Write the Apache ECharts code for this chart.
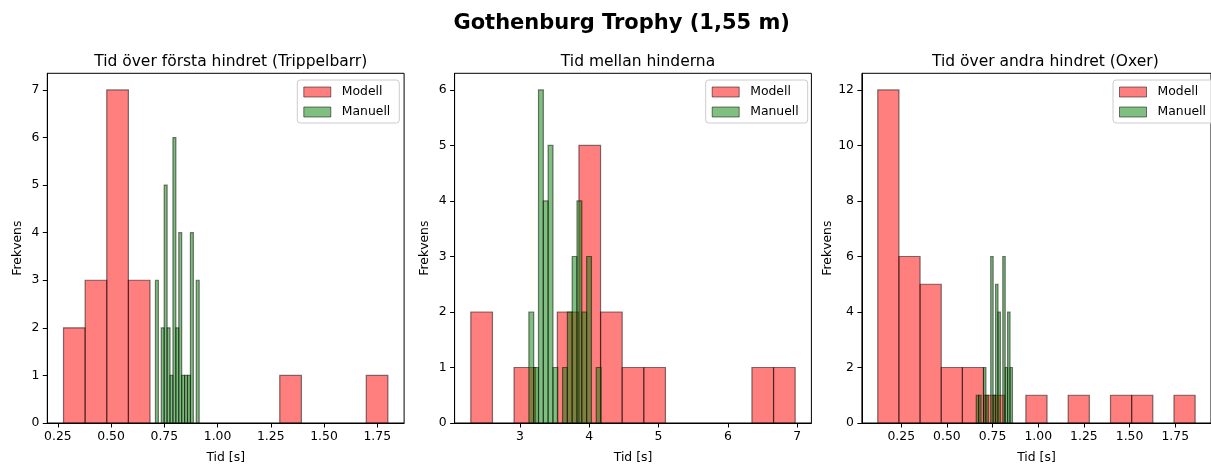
<!DOCTYPE html>
<html><head><meta charset="utf-8">
<script src="https://cdn.jsdelivr.net/npm/echarts@6/dist/echarts.min.js"></script>
<style>html,body{margin:0;padding:0;background:#fff;}#c{width:1211px;height:469px;}</style>
</head><body><div id="c"></div>
<script>
const suptitle = 'Gothenburg Trophy (1,55 m)';
const titles = ['Tid över första hindret (Trippelbarr)', 'Tid mellan hinderna', 'Tid över andra hindret (Oxer)'];
const seriesNames = ['Modell', 'Manuell'];
const xLabel = 'Tid [s]';
const yLabel = 'Frekvens';

// histogram ranges [first bin edge, last bin edge] (15 equal bins) and counts
const modellRange1 = [0.2766, 1.800];
const modellCounts1 = [2, 3, 7, 3, 0, 0, 0, 0, 0, 0, 1, 0, 0, 0, 1];
const manuellRange1 = [0.7084, 0.9137];
const manuellCounts1 = [3, 0, 2, 5, 2, 1, 6, 2, 4, 1, 1, 1, 4, 0, 3];

const modellRange2 = [2.2924, 6.971];
const modellCounts2 = [2, 0, 1, 0, 2, 5, 2, 1, 1, 0, 0, 0, 0, 1, 1];
const manuellRange2 = [3.130, 4.171];
const manuellCounts2 = [2, 1, 6, 4, 5, 1, 0, 1, 2, 3, 4, 2, 3, 0, 1];

const modellRange3 = [0.1214, 1.859];
const modellCounts3 = [12, 6, 5, 2, 2, 1, 0, 1, 0, 1, 0, 1, 1, 0, 1];
const manuellRange3 = [0.6606, 0.8587];
const manuellCounts3 = [1, 1, 0, 2, 1, 0, 6, 1, 5, 4, 0, 6, 2, 4, 2];

const xTicks1 = [0.25, 0.5, 0.75, 1.0, 1.25, 1.5, 1.75];
const xTicks2 = [3, 4, 5, 6, 7];
const xTicks3 = [0.25, 0.5, 0.75, 1.0, 1.25, 1.5, 1.75];
const yTicks1 = [0, 1, 2, 3, 4, 5, 6, 7];
const yTicks2 = [0, 1, 2, 3, 4, 5, 6];
const yTicks3 = [0, 2, 4, 6, 8, 10, 12];

const panels = [
  {title: titles[0], mR: modellRange1, mC: modellCounts1, gR: manuellRange1, gC: manuellCounts1, xt: xTicks1, yt: yTicks1, dec: 2},
  {title: titles[1], mR: modellRange2, mC: modellCounts2, gR: manuellRange2, gC: manuellCounts2, xt: xTicks2, yt: yTicks2, dec: 0},
  {title: titles[2], mR: modellRange3, mC: modellCounts3, gR: manuellRange3, gC: manuellCounts3, xt: xTicks3, yt: yTicks3, dec: 2}
];

const FONT = 'DejaVu Sans';
const gridLeft = [47.3, 454.6, 861.9];
const gridTop = 73.3, gridW = 356.8, gridH = 354;
const legendLeft = [297.3, 705.7, 1113];
const RED = 'rgba(255,0,0,0.5)', GREEN = 'rgba(0,128,0,0.5)', EDGE = 'rgba(0,0,0,0.5)';

function bins(range, counts) {
  const n = counts.length, w = (range[1] - range[0]) / n;
  return counts.map((c, i) => [range[0] + i * w, range[0] + (i + 1) * w, c]).filter(d => d[2] > 0);
}
function renderBar(fill) {
  return function (params, api) {
    const p0 = api.coord([api.value(0), 0]);
    const p1 = api.coord([api.value(1), api.value(2)]);
    return {type: 'rect', shape: {x: p0[0], y: p1[1], width: p1[0] - p0[0], height: p0[1] - p1[1]},
      style: {fill: fill, stroke: EDGE, lineWidth: 1.2}};
  };
}

const option = {
  animation: false,
  backgroundColor: '#fff',
  textStyle: {fontFamily: FONT},
  title: [{text: suptitle, left: 616.7, top: 8, textAlign: 'center',
    textStyle: {fontFamily: FONT, fontSize: 21, fontWeight: 'bold', color: '#000'}}]
    .concat(panels.map((p, i) => ({text: p.title, left: gridLeft[i] + gridW / 2, top: 49, textAlign: 'center',
      textStyle: {fontFamily: FONT, fontSize: 15.5, fontWeight: 'normal', color: '#000'}}))),
  grid: panels.map((p, i) => ({left: gridLeft[i], top: gridTop, width: gridW, height: gridH,
    show: true, borderColor: '#000', borderWidth: 1, backgroundColor: 'transparent', containLabel: false})),
  legend: panels.map((p, i) => ({
    left: legendLeft[i], top: 80, orient: 'vertical', itemWidth: 27, itemHeight: 10, itemGap: 6,
    padding: [5, 9, 4, 6], backgroundColor: 'rgba(255,255,255,0.8)', borderColor: '#cccccc', borderWidth: 1, borderRadius: 3,
    textStyle: {fontFamily: FONT, fontSize: 12.4, color: '#000', padding: [0, 0, 0, 6], lineHeight: 14},
    data: [
      {name: seriesNames[0], icon: 'rect', itemStyle: {color: RED, borderColor: EDGE, borderWidth: 1}},
      {name: seriesNames[1], icon: 'rect', itemStyle: {color: GREEN, borderColor: EDGE, borderWidth: 1}}
    ]
  })),
  xAxis: panels.map((p, i) => {
    const lo = Math.min(p.mR[0], p.gR[0]), hi = Math.max(p.mR[1], p.gR[1]), m = 0.05 * (hi - lo);
    return {type: 'value', gridIndex: i, min: lo - m, max: hi + m,
      name: xLabel, nameLocation: 'middle', nameGap: 29,
      nameTextStyle: {fontFamily: FONT, fontSize: 12.4, color: '#000'},
      axisLine: {show: true, onZero: false, lineStyle: {color: '#000', width: 1}},
      axisTick: {show: true, length: 4.5, lineStyle: {color: '#000'}, customValues: p.xt},
      axisLabel: {show: true, margin: 8, fontFamily: FONT, fontSize: 12.4, color: '#000', customValues: p.xt,
        formatter: v => Number(v).toFixed(p.dec)},
      splitLine: {show: false}};
  }),
  yAxis: panels.map((p, i) => {
    const mx = Math.max(Math.max(...p.mC), Math.max(...p.gC)) * 1.05;
    return {type: 'value', gridIndex: i, min: 0, max: mx,
      name: yLabel, nameLocation: 'middle', nameGap: 24,
      nameTextStyle: {fontFamily: FONT, fontSize: 12.4, color: '#000'},
      axisLine: {show: true, lineStyle: {color: '#000', width: 1}},
      axisTick: {show: true, length: 4.5, lineStyle: {color: '#000'}, customValues: p.yt},
      axisLabel: {show: true, margin: 8, fontFamily: FONT, fontSize: 12.4, color: '#000', customValues: p.yt},
      splitLine: {show: false}};
  }),
  series: panels.flatMap((p, i) => [
    {type: 'custom', name: seriesNames[0], xAxisIndex: i, yAxisIndex: i, data: bins(p.mR, p.mC),
      encode: {x: [0, 1], y: 2}, renderItem: renderBar(RED), itemStyle: {color: RED}},
    {type: 'custom', name: seriesNames[1], xAxisIndex: i, yAxisIndex: i, data: bins(p.gR, p.gC),
      encode: {x: [0, 1], y: 2}, renderItem: renderBar(GREEN), itemStyle: {color: GREEN}}
  ])
};
const chart = echarts.init(document.getElementById('c'), null, {renderer: 'canvas'});
chart.setOption(option);
</script></body></html>
